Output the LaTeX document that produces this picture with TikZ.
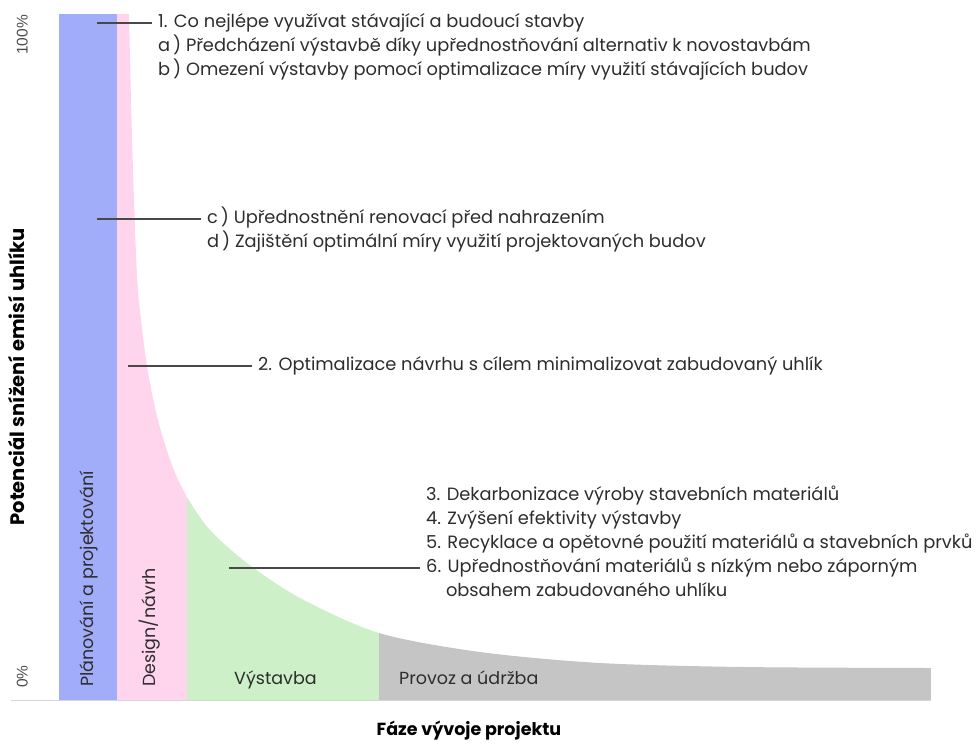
\documentclass[tikz,border=0pt]{standalone}
\usepackage{fontspec}
\setmainfont{Poppins}
\newfontfamily\tickfont{Liberation Sans}
\usepackage{tikz}
\usetikzlibrary{positioning}

\definecolor{planblue}{RGB}{162,173,250}
\definecolor{designpink}{RGB}{255,213,238}
\definecolor{buildgreen}{RGB}{205,240,200}
\definecolor{opsgray}{RGB}{197,197,197}
\definecolor{leadgray}{RGB}{72,72,72}
\definecolor{txtgray}{RGB}{45,45,45}
\definecolor{axisgray}{RGB}{214,214,214}

\begin{document}
\begin{tikzpicture}[x=1pt,y=-1pt,
        item/.style={anchor=west,inner xsep=6pt,inner ysep=0pt,text height=16pt,text depth=7.5pt,
            font=\fontsize{17.8}{20}\selectfont,text=txtgray},
        phase/.style={inner sep=0pt,text height=13pt,text depth=4pt,font=\fontsize{17.5}{20}\selectfont,text=txtgray},
        tick/.style={inner sep=0pt,text height=11pt,text depth=0pt,font=\tickfont\fontsize{15.5}{17}\selectfont,text=txtgray!85},
        axtitle/.style={inner sep=0pt,font=\bfseries\fontsize{17.5}{20}\selectfont,text=black},
        leader/.style={line width=1.1pt,color=leadgray},
        axis/.style={line width=1pt,color=axisgray}]
    \useasboundingbox (0,0) rectangle (979,745);
    % phases under the curve
    \begin{scope}
        \clip (117,700) -- (117,14) -- plot[smooth] coordinates {(129,14) (131,100) (134,200) (138,290) (147,366)
            (158,420) (172,465) (187,497) (210,530) (247,563) (300,598) (379,633) (480,652) (600,663)
            (743,667) (931,668)} -- (931,700) -- cycle;
        \fill[designpink] (117,0) rectangle (187,700);
        \fill[buildgreen] (187,0) rectangle (379,700);
        \fill[opsgray] (379,0) rectangle (931,700);
    \end{scope}
    \fill[planblue] (59,14) rectangle (117,700);

    \coordinate (ax0) at (11,700);
    \coordinate (ax1) at (931,700);
    \draw[axis] (ax0) -- (ax1);

    \node[phase,rotate=90,anchor=west] (plan) at (89,687) {Plánování a projektování};
    \node[phase,rotate=90,anchor=west] (design) at (151,687) {Design/návrh};
    \node[phase,anchor=west] (build) at (234,680) {Výstavba};
    \node[phase,anchor=west] (ops) at (399,680) {Provoz a údržba};

    \node[tick,rotate=90,anchor=east] (full) at (22,15) {100\%};
    \node[tick,rotate=90,anchor=west] (zero) at (22,688) {0\%};
    \node[axtitle,rotate=90,font=\bfseries\fontsize{19.5}{22}\selectfont] (ytitle) at (16,377) {Potenciál snížení emisí uhlíku};
    \node[axtitle] (xtitle) at (469,731) {Fáze vývoje projektu};

    % strategies
    \node[item] (t1) at (152,23) {1. Co nejlépe využívat stávající a budoucí stavby};
    \node[item,below=0pt of t1.south west,anchor=north west] (t1a) {a\,) Předcházení výstavbě díky upřednostňování alternativ k novostavbám};
    \node[item,below=0pt of t1a.south west,anchor=north west] (t1b) {b\,) Omezení výstavby pomocí optimalizace míry využití stávajících budov};
    \node[item] (tc) at (201,219) {c\,) Upřednostnění renovací před nahrazením};
    \node[item,below=0pt of tc.south west,anchor=north west] (td) {d\,) Zajištění optimální míry využití projektovaných budov};
    \node[item] (t2) at (252,366) {2. Optimalizace návrhu s cílem minimalizovat zabudovaný uhlík};
    \node[item] (t6) at (420,568) {6. Upřednostňování materiálů s nízkým nebo záporným};
    \node[item,above=0pt of t6.north west,anchor=south west] (t5) {5. Recyklace a opětovné použití materiálů a stavebních prvků};
    \node[item,above=0pt of t5.north west,anchor=south west] (t4) {4. Zvýšení efektivity výstavby};
    \node[item,above=0pt of t4.north west,anchor=south west] (t3) {3. Dekarbonizace výroby stavebních materiálů};
    \node[item,below=0pt of t6.south west,anchor=north west] (t6b) {\hphantom{6.}\ obsahem zabudovaného uhlíku};

    \coordinate (l1) at (97,23);
    \coordinate (lc) at (97,219);
    \coordinate (l2) at (128,366);
    \coordinate (l6) at (229,568);
    \draw[leader] (l1) -- (t1.west);
    \draw[leader] (lc) -- (tc.west);
    \draw[leader] (l2) -- (t2.west);
    \draw[leader] (l6) -- (t6.west);
\end{tikzpicture}
\end{document}
